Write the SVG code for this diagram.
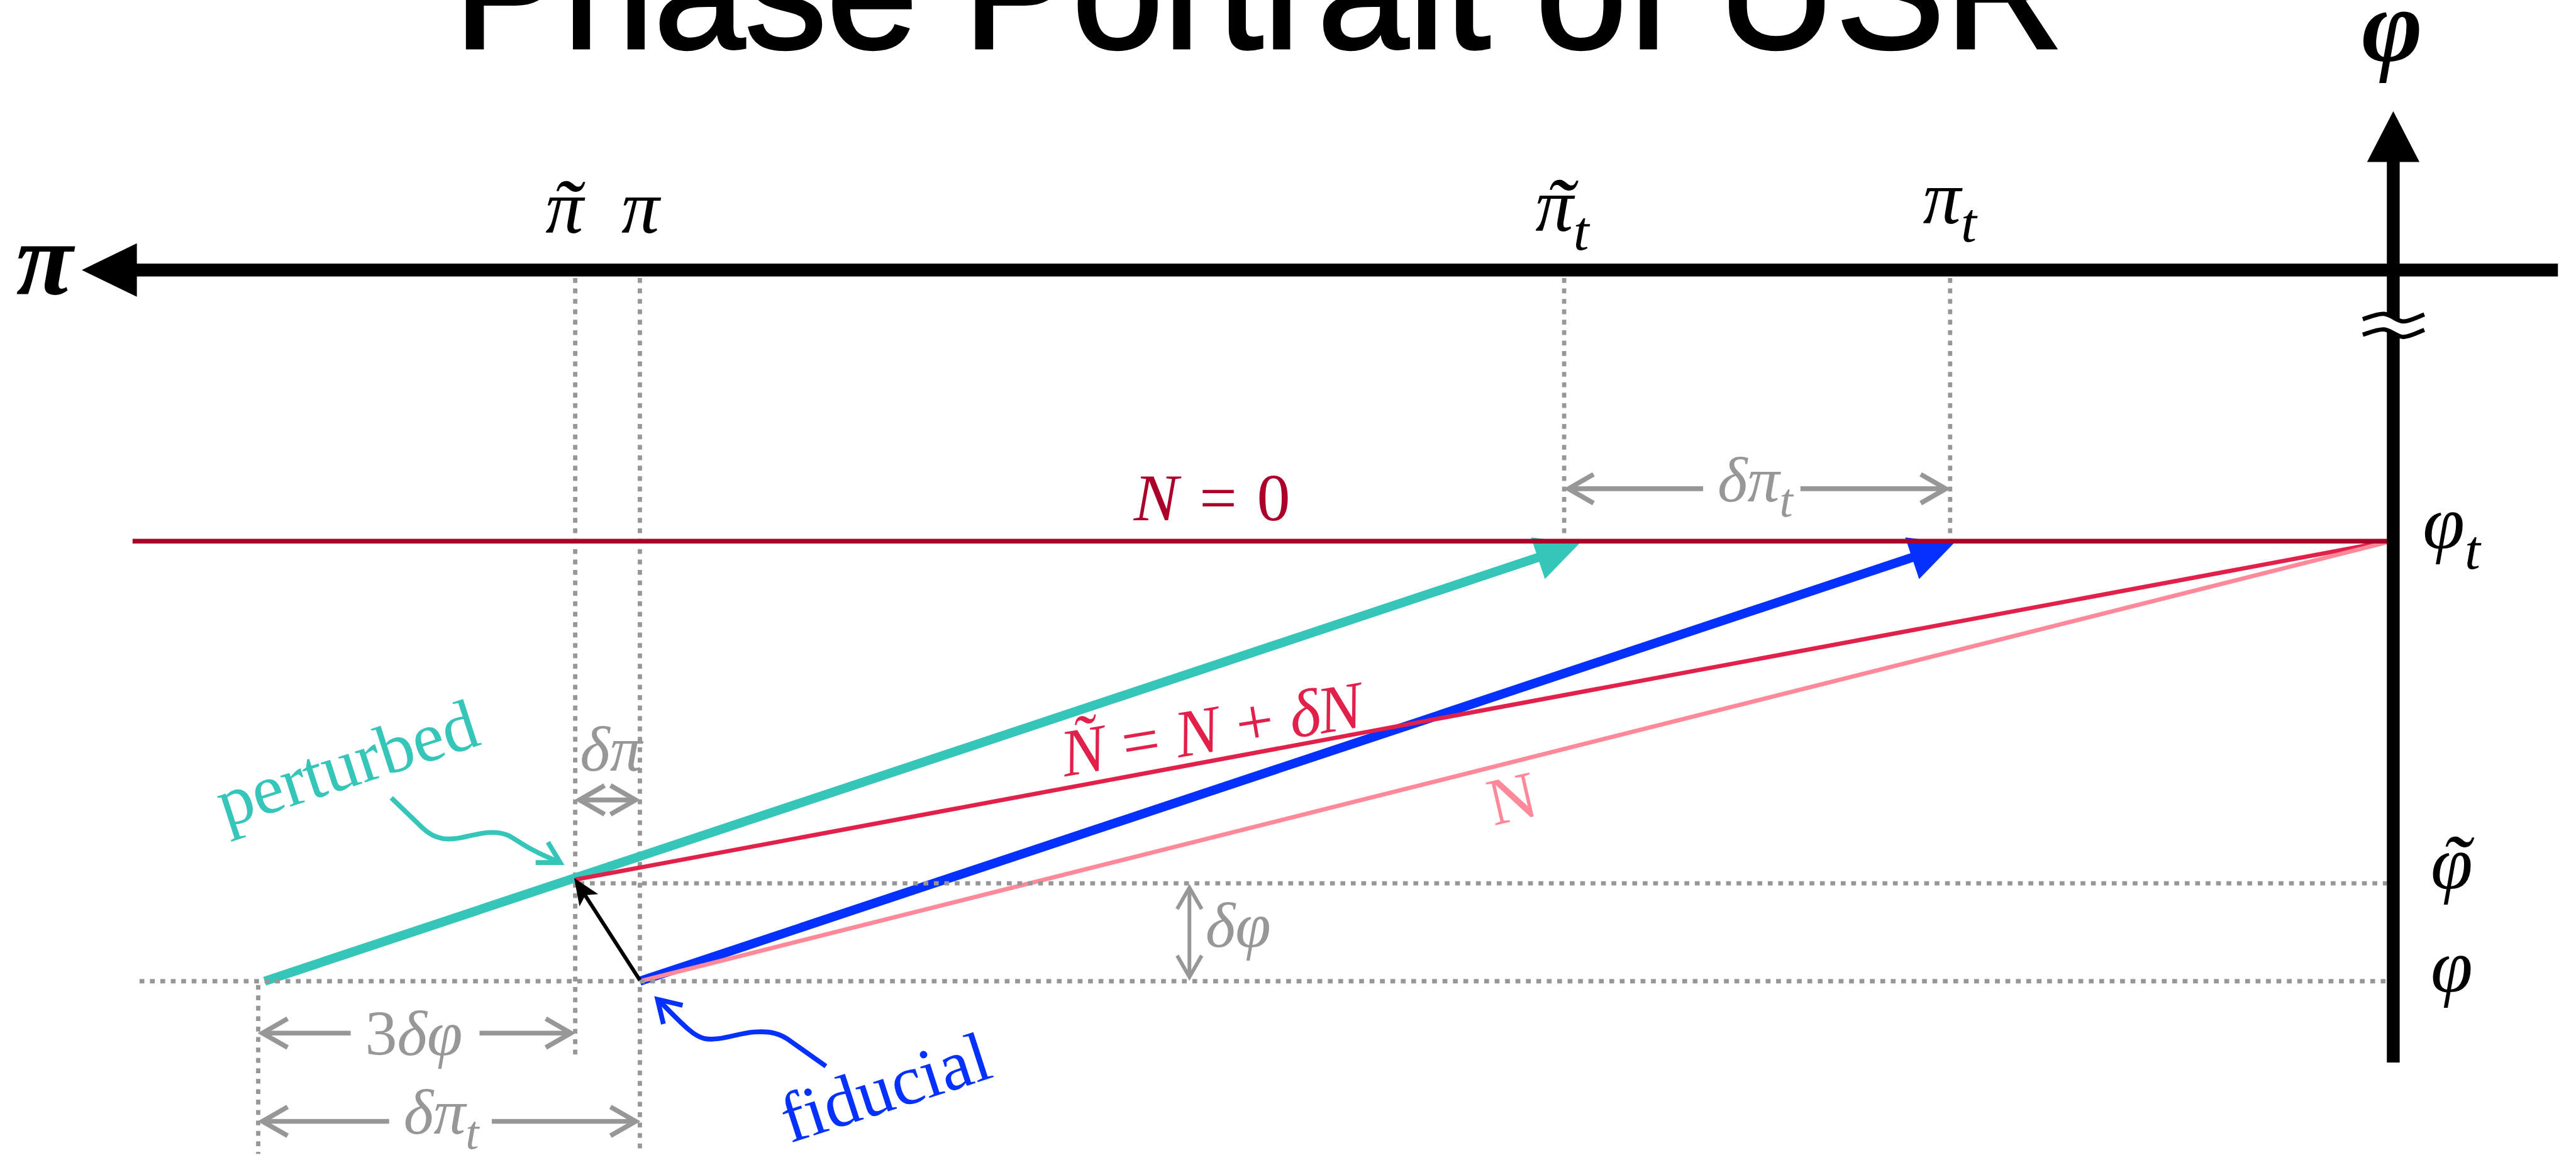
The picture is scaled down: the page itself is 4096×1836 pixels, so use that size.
<svg xmlns="http://www.w3.org/2000/svg" width="4096" height="1836" viewBox="0 0 4096 1836">
<style>
.math{font-family:"Liberation Serif","DejaVu Serif",serif;font-style:italic}
.up{font-style:normal}
.lbl{font-size:142px;fill:#000}
.tl{font-size:160px}
.big{font-size:195px;font-weight:bold;fill:#000}
.gray{fill:#979797;font-size:120px}
.dim{stroke:#979797;stroke-width:9;fill:none}
.dot{stroke:#979797;stroke-width:8;stroke-dasharray:9 10.5;fill:none}
.word{font-family:"Liberation Serif","DejaVu Serif",serif;font-size:132px}
.thin{stroke:#979797;stroke-width:7;fill:none}
</style>
<defs>
<marker id="chev" markerUnits="userSpaceOnUse" orient="auto-start-reverse" markerWidth="60" markerHeight="70" viewBox="-55 -35 60 70" refX="0" refY="0" overflow="visible">
<path d="M-47,-27 L0,0 L-47,27" fill="none" stroke="#979797" stroke-width="9"/>
</marker>
<marker id="chevs" markerUnits="userSpaceOnUse" orient="auto-start-reverse" markerWidth="50" markerHeight="60" viewBox="-45 -30 50 60" refX="0" refY="0" overflow="visible">
<path d="M-40,-23 L0,0 L-40,23" fill="none" stroke="#979797" stroke-width="7"/>
</marker>
</defs>
<rect x="0" y="0" width="4096" height="1836" fill="#fff"/>
<g transform="scale(0.85)">
<g id="title">
<text x="849" y="90" font-family="'Liberation Sans',Arial,sans-serif" font-size="306" stroke="#000" stroke-width="5" fill="#000">Phase Portrait of USR</text>
</g>

<g id="guides">
<line class="dot" x1="1076" y1="520" x2="1076" y2="1976"/>
<line class="dot" x1="1197" y1="520" x2="1197" y2="2158"/>
<line class="dot" x1="2926" y1="520" x2="2926" y2="1008"/>
<line class="dot" x1="3648" y1="520" x2="3648" y2="1008"/>
<line class="dot" x1="483" y1="1842" x2="483" y2="2158"/>
</g>

<g id="trajectories">
<g id="perturbed-traj">
<line x1="495" y1="1835" x2="2879" y2="1042" stroke="#35C5B9" stroke-width="17"/>
<polygon points="2955,1016 2864,1005 2890,1083" fill="#35C5B9"/>
</g>
<g id="fiducial-traj">
<line x1="1197" y1="1835" x2="3579" y2="1042" stroke="#0531FF" stroke-width="17"/>
<polygon points="3655,1016 3564,1005 3590,1083" fill="#0531FF"/>
</g>
<line id="line-Ntilde" x1="1076" y1="1645" x2="4470" y2="1012" stroke="#E2214B" stroke-width="8"/>
<line id="line-N" x1="1197" y1="1835" x2="4470" y2="1013" stroke="#FF8899" stroke-width="8"/>
<line id="line-N0" x1="248" y1="1012" x2="4470" y2="1012" stroke="#AA0029" stroke-width="9"/>
</g>

<g id="guides-h">
<line class="dot" x1="261" y1="1835" x2="4465" y2="1835"/>
<line class="dot" x1="1084" y1="1652" x2="4465" y2="1652"/>
</g>

<g id="axis-pi">
<line x1="250" y1="505" x2="4785" y2="505" stroke="#000" stroke-width="24"/>
<polygon points="153,505 256,455 256,555" fill="#000"/>
<text class="math big" x="30" y="550">π</text>
</g>

<g id="axis-phi">
<line x1="4477" y1="298" x2="4477" y2="1987" stroke="#000" stroke-width="24"/>
<polygon points="4477,208 4428,303 4526,303" fill="#000"/>
<path d="M4420,597 C4435,592 4448,586 4460,587 C4475,589 4485,602 4497,601 C4510,600 4522,593 4535,588 L4535,617 C4522,622 4510,629 4497,630 C4485,631 4475,618 4460,616 C4448,615 4435,621 4420,626 Z" fill="#fff"/>
<path d="M4420,597 C4435,592 4448,586 4460,587 C4475,589 4485,602 4497,601 C4510,600 4522,593 4535,588" fill="none" stroke="#000" stroke-width="8"/>
<path d="M4420,626 C4435,621 4448,615 4460,616 C4475,618 4485,631 4497,630 C4510,629 4522,622 4535,617" fill="none" stroke="#000" stroke-width="8"/>
<text class="math big" x="4475" y="114" text-anchor="middle">φ</text>
</g>

<g id="shift-arrow">
<line x1="1197" y1="1833" x2="1093" y2="1672" stroke="#000" stroke-width="7"/>
<polygon points="1074,1642 1119,1672 1095,1674 1084,1695" fill="#000"/>
</g>

<g id="connectors">
<line class="dim" x1="2934" y1="914" x2="3186" y2="914" marker-start="url(#chev)"/>
<line class="dim" x1="3368" y1="914" x2="3640" y2="914" marker-end="url(#chev)"/>
<line class="dim" x1="1084" y1="1496" x2="1189" y2="1496" marker-start="url(#chev)" marker-end="url(#chev)"/>
<line class="thin" x1="2225" y1="1660" x2="2225" y2="1827" marker-start="url(#chevs)" marker-end="url(#chevs)"/>
<line class="dim" x1="491" y1="1932" x2="656" y2="1932" marker-start="url(#chev)"/>
<line class="dim" x1="897" y1="1932" x2="1068" y2="1932" marker-end="url(#chev)"/>
<line class="dim" x1="491" y1="2097" x2="728" y2="2097" marker-start="url(#chev)"/>
<line class="dim" x1="920" y1="2097" x2="1189" y2="2097" marker-end="url(#chev)"/>
<path d="M732,1492 L790,1548 C815,1572 840,1572 870,1565 C900,1558 925,1552 950,1562 C970,1572 985,1588 1046,1612" fill="none" stroke="#35C5B9" stroke-width="9"/>
<path d="M1002,1613 L1048,1613 L1025,1575" fill="none" stroke="#35C5B9" stroke-width="9"/>
<path d="M1545,1994 L1480,1948 C1460,1932 1440,1928 1411,1930 C1380,1932 1345,1948 1317,1942 C1300,1938 1285,1925 1232,1870" fill="none" stroke="#0531FF" stroke-width="9"/>
<path d="M1241,1915 L1230,1869 L1277,1880" fill="none" stroke="#0531FF" stroke-width="9"/>
</g>

<g id="labels">
<text class="math lbl" x="1056" y="435" text-anchor="middle">π<tspan class="tl" x="1058" y="446" text-anchor="middle">˜</tspan></text>
<text class="math lbl" x="1198" y="435" text-anchor="middle">π</text>
<text class="math lbl" x="2872" y="432">π<tspan font-size="105" dy="35">t</tspan><tspan class="tl" x="2916" y="443" text-anchor="middle">˜</tspan></text>
<text class="math lbl" x="3597" y="418">π<tspan font-size="105" dy="34">t</tspan></text>
<text class="math lbl" x="4532" y="1025">φ<tspan font-size="105" dy="38">t</tspan></text>
<text class="math lbl" x="4547" y="1661">φ<tspan class="tl" x="4592" y="1672" text-anchor="middle">˜</tspan></text>
<text class="math lbl" x="4547" y="1854">φ</text>
<text class="math" x="2121" y="973" font-size="125" fill="#AA0029">N = <tspan class="up">0</tspan></text>
<text class="math" transform="translate(1992,1452) rotate(-9.5)" font-size="125" fill="#E2214B" textLength="570" lengthAdjust="spacing">Ñ = N + δN</text>
<text class="math up" transform="translate(2829,1494) rotate(-13)" x="0" y="41" font-size="125" fill="#FF8899" text-anchor="middle">N</text>
<text class="math gray" x="3213" y="938">δπ<tspan font-size="90" dy="28">t</tspan></text>
<text class="math gray" x="1085" y="1441" font-size="100">δπ</text>
<text class="math gray" x="2255" y="1771">δφ</text>
<text class="math gray" x="683" y="1973"><tspan class="up">3</tspan>δφ</text>
<text class="math gray" x="755" y="2120">δπ<tspan font-size="90" dy="28">t</tspan></text>
<text class="word" transform="translate(422,1548) rotate(-18)" fill="#35C5B9">perturbed</text>
<text class="word" transform="translate(1478,2138) rotate(-18)" fill="#0531FF">fiducial</text>
</g>
</g>
</svg>
